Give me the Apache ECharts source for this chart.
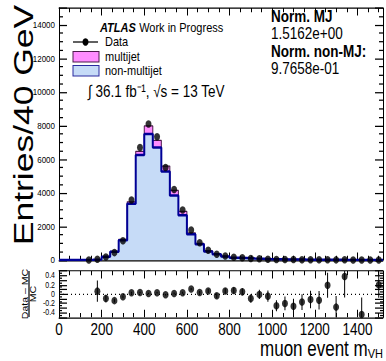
<!DOCTYPE html>
<html>
<head>
<meta charset="utf-8">
<script src="https://cdn.jsdelivr.net/npm/echarts@6/dist/echarts.min.js"></script>
<style>
  html, body { margin: 0; padding: 0; background: #fff; overflow: hidden; }
  #wrap { width: 386px; height: 361px; overflow: hidden; position: relative; }
  /* the canvas is laid out on a 4:3 grid and stretched vertically */
  #chart { width: 386px; height: 290px; transform: scaleY(1.24483); transform-origin: 0 0; }
</style>
</head>
<body>
<div id="wrap"><div id="chart"></div></div>
<script>
// ---- histogram binning (40 GeV bins) ----
const binLow = [0, 40, 80, 120, 160, 200, 240, 280, 320, 360, 400, 440, 480, 520, 560, 600,
  640, 680, 720, 760, 800, 840, 880, 920, 960, 1000, 1040, 1080, 1120, 1160, 1200, 1240,
  1280, 1320, 1360, 1400, 1440, 1480];
const binWidth = 40;
const xMax = 1520;

// ---- observed events per bin (null = not drawn) ----
const dataCounts = [null, null, null, 0, 40, 180, 440, 1150, 3570, 6700, 8090, 7340, 5510, 4200,
  2975, 1785, 1030, 575, 340, 238, 160, 137, 90, 80, 45, 35, 30, 25, 20, 17, 14, 12, 8, 10, 0, 4, 0, 6];

// ---- background expectation per bin ----
const nonMultijet = [0, 0, 0, 8, 36, 193, 497, 1181, 3346, 6243, 7498, 6696, 5268, 3842, 2658,
  1528, 944, 512, 338, 212, 141, 124, 94, 77, 45, 45, 35.5, 32, 23, 18, 15, 9.5, 10.5, 6.8, 5.7, 6.8, 4.8, 4.8];
const multijet = [0, 0, 0, 0, 2, 6, 15, 40, 120, 230, 480, 430, 320, 300, 230, 80, 50, 25, 15, 10,
  7, 6, 5, 4, 2, 2, 2, 2, 1, 1, 1, 0.5, 0.5, 0.4, 0.3, 0.3, 0.2, 0.2];

// ---- (Data - MC) / MC and its uncertainty ----
const ratio = [null, null, null, null, 0.065, -0.094, -0.14, -0.058, 0.03, 0.035, 0.014, 0.03, -0.014,
  0.014, 0.03, 0.11, 0.036, 0.07, -0.036, 0.07, 0.08, 0.05, -0.094, -0.007, -0.043, -0.25, -0.2,
  -0.26, -0.17, -0.115, -0.13, 0.19, -0.28, 0.38, null, -0.44, null, 0.2];
const ratioErr = [null, null, null, null, 0.23, 0.08, 0.04, 0.03, 0.02, 0.015, 0.015, 0.015, 0.015,
  0.02, 0.02, 0.025, 0.03, 0.045, 0.055, 0.06, 0.07, 0.08, 0.09, 0.1, 0.12, 0.12, 0.15, 0.16, 0.17,
  0.19, 0.2, 0.27, 0.24, 0.45, null, 0.37, null, 0.28];
const ratioTickLabels = [-0.4, -0.2, 0, 0.2, 0.4];

// ---- annotation texts ----
const normLabels = ['Norm. MJ', '1.5162e+00', 'Norm. non-MJ:', '9.7658e-01'];

const S = 361 / 290;             // vertical stretch of the page
const Y = v => v / S;            // page pixel -> layout pixel
const FONT = '"Liberation Sans", Arial, Helvetica, sans-serif';
const PINK = '#ff8cff', PINK_LINE = '#4a1a4a';
const BLUE = '#c6dbf7', BLUE_LINE = '#000096';

// step outlines: one point per bin low edge plus the closing edge
function stepPoints(vals) {
  const pts = binLow.map((lo, i) => [lo, vals[i]]);
  pts.push([xMax, vals[vals.length - 1]]);
  return pts;
}
const mcTotal = nonMultijet.map((v, i) => v + multijet[i]);

const dataPoints = [];
dataCounts.forEach((c, i) => { if (c !== null) dataPoints.push([binLow[i] + binWidth / 2, c]); });
const ratioPoints = [];
ratio.forEach((r, i) => { if (r !== null) ratioPoints.push([binLow[i] + binWidth / 2, r, ratioErr[i]]); });

const grids = [
  { left: 59, top: Y(8), width: 324, height: Y(252) },
  { left: 59, top: Y(271), width: 324, height: Y(46.3) }
];
const plain = v => String(v);

function xAxisDef(grid, pos, labels) {
  return {
    type: 'value', gridIndex: grid, position: pos, min: 0, max: xMax, interval: 200,
    axisLine: { show: true, onZero: false, lineStyle: { color: '#000', width: 1 } },
    axisTick: { show: true, inside: true, length: 6, lineStyle: { color: '#000', width: 1 } },
    minorTick: { show: true, splitNumber: 4, length: 3.5, lineStyle: { color: '#000', width: 1 } },
    axisLabel: labels ? {
      show: true, fontFamily: FONT, fontSize: 13.5, color: '#000', margin: 2.5, showMaxLabel: false,
      formatter: plain
    } : { show: false },
    splitLine: { show: false }
  };
}
function yAxisDef(grid, pos, cfg) {
  return Object.assign({
    type: 'value', gridIndex: grid, position: pos,
    axisLine: { show: true, onZero: false, lineStyle: { color: '#000', width: 1 } },
    axisTick: { show: true, inside: true, length: 8, lineStyle: { color: '#000', width: 1 } },
    splitLine: { show: false }
  }, cfg);
}
const mainYCfg = { min: 0, max: 15000, interval: 2000, minorTick: { show: true, splitNumber: 4, length: 4, lineStyle: { color: '#000' } } };
const ratioYCfg = { min: -0.5, max: 0.5, interval: 0.1, minorTick: { show: true, splitNumber: 2, length: 3, lineStyle: { color: '#000' } } };

const chart = echarts.init(document.getElementById('chart'), null, { renderer: 'svg' });

// width of the subscript, for placing the axis title
const ctx = document.createElement('canvas').getContext('2d');
ctx.font = '11px ' + FONT;
const subW = ctx.measureText('VH').width;

function label(x, yPage, text, size, bold) {
  return { type: 'text', x: x, y: Y(yPage), style: {
    text: text, fontFamily: FONT, fontSize: size, fontWeight: bold ? 'bold' : 'normal',
    fill: '#000', verticalAlign: 'middle' } };
}

chart.setOption({
  animation: false,
  backgroundColor: '#fff',
  grid: grids,
  xAxis: [
    xAxisDef(0, 'bottom', false),
    xAxisDef(0, 'top', false),
    xAxisDef(1, 'bottom', true),
    xAxisDef(1, 'top', false)
  ],
  yAxis: [
    yAxisDef(0, 'left', Object.assign({}, mainYCfg, {
      axisLabel: { show: true, fontFamily: FONT, fontSize: 8, color: '#000', margin: 4, showMaxLabel: false, formatter: plain }
    })),
    yAxisDef(0, 'right', Object.assign({}, mainYCfg, { axisLabel: { show: false } })),
    yAxisDef(1, 'left', Object.assign({}, ratioYCfg, {
      axisLabel: { show: true, fontFamily: FONT, fontSize: 7, lineHeight: 7, color: '#000', margin: 4,
        customValues: ratioTickLabels, formatter: plain }
    })),
    yAxisDef(1, 'right', Object.assign({}, ratioYCfg, { axisLabel: { show: false } }))
  ],
  series: [
    {
      name: 'multijet', type: 'line', xAxisIndex: 0, yAxisIndex: 0, step: 'end',
      data: stepPoints(mcTotal), showSymbol: false, symbol: 'none', z: 2,
      lineStyle: { color: PINK_LINE, width: 1 },
      areaStyle: { color: PINK, opacity: 1 }
    },
    {
      name: 'non-multijet', type: 'line', xAxisIndex: 0, yAxisIndex: 0, step: 'end',
      data: stepPoints(nonMultijet), showSymbol: false, symbol: 'none', z: 3,
      lineStyle: { color: BLUE_LINE, width: 2 },
      areaStyle: { color: BLUE, opacity: 1 }
    },
    {
      name: 'Data', type: 'scatter', xAxisIndex: 0, yAxisIndex: 0, data: dataPoints,
      symbol: 'circle', symbolSize: 6, itemStyle: { color: '#000' }, z: 5
    },
    {
      name: 'ratioErr', type: 'custom', xAxisIndex: 2, yAxisIndex: 2, data: ratioPoints, clip: true, z: 4,
      renderItem: function (params, api) {
        const x = api.value(0), r = api.value(1), e = api.value(2);
        const p1 = api.coord([x, r - e]), p2 = api.coord([x, r + e]);
        return { type: 'line', shape: { x1: p1[0], y1: p1[1], x2: p2[0], y2: p2[1] },
          style: { stroke: '#000', lineWidth: 1 } };
      }
    },
    {
      name: 'ratio', type: 'scatter', xAxisIndex: 2, yAxisIndex: 2, data: ratioPoints.map(p => [p[0], p[1]]),
      symbol: 'circle', symbolSize: 6, itemStyle: { color: '#000' }, z: 5,
      markLine: {
        silent: true, symbol: ['none', 'none'], label: { show: false },
        lineStyle: { color: '#000', type: [1, 3], width: 1 },
        data: [{ yAxis: 0 }]
      }
    }
  ],
  graphic: [
    { type: 'text', x: 100, y: Y(28), style: {
        text: '{b|ATLAS} {n|Work in Progress}', verticalAlign: 'middle',
        rich: { b: { fontFamily: FONT, fontSize: 11, fontWeight: 'bold', fontStyle: 'italic', fill: '#000' },
                n: { fontFamily: FONT, fontSize: 11, fill: '#000' } } } },
    { type: 'line', shape: { x1: 73, y1: Y(42), x2: 98, y2: Y(42) }, style: { stroke: '#000', lineWidth: 1 } },
    { type: 'circle', shape: { cx: 85.5, cy: Y(42), r: 3 }, style: { fill: '#000' } },
    label(105, 42, 'Data', 11, false),
    { type: 'rect', shape: { x: 73, y: Y(51.5), width: 26, height: Y(10.5) }, style: { fill: PINK, stroke: PINK_LINE, lineWidth: 1 } },
    label(105, 57, 'multijet', 11, false),
    { type: 'rect', shape: { x: 73, y: Y(65.5), width: 26, height: Y(10.5) }, style: { fill: BLUE, stroke: '#2a2aa0', lineWidth: 1 } },
    label(105, 71, 'non-multijet', 11, false),
    label(88, 91, '\u222B 36.1 fb\u207B\u00B9, \u221As = 13 TeV', 13.5, false),
    label(271, 16, normLabels[0], 13.5, true),
    label(271, 33.3, normLabels[1], 13.5, false),
    label(271, 50.5, normLabels[2], 13.5, true),
    label(271, 67.5, normLabels[3], 13.5, false),
    // axis titles
    { type: 'text', x: 23, y: Y(125), rotation: Math.PI / 2, style: {
        text: 'Entries/40 GeV', fontFamily: FONT, fontSize: 28.5, fill: '#000', align: 'center', verticalAlign: 'middle' } },
    { type: 'text', x: 24.5, y: Y(294), rotation: Math.PI / 2, style: {
        text: 'Data \u2013 MC', fontFamily: FONT, fontSize: 8.5, fill: '#000', align: 'center', verticalAlign: 'middle' } },
    { type: 'line', shape: { x1: 29, y1: Y(271), x2: 29, y2: Y(317) }, style: { stroke: '#000', lineWidth: 1.2 } },
    { type: 'text', x: 33, y: Y(294), rotation: Math.PI / 2, style: {
        text: 'MC', fontFamily: FONT, fontSize: 8.5, fill: '#000', align: 'center', verticalAlign: 'middle' } },
    { type: 'text', x: 383 - subW, y: Y(348.7), style: {
        text: 'muon event m', fontFamily: FONT, fontSize: 17, fill: '#000', align: 'right', verticalAlign: 'middle' } },
    { type: 'text', x: 383, y: Y(354), style: {
        text: 'VH', fontFamily: FONT, fontSize: 11, fill: '#000', align: 'right', verticalAlign: 'middle' } }
  ]
});
</script>
</body>
</html>
